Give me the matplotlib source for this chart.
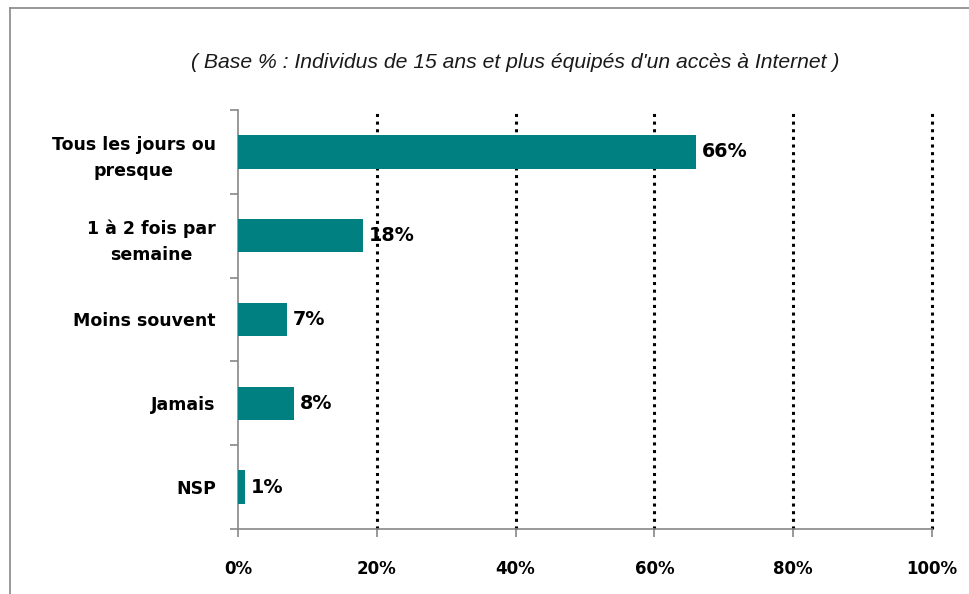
import matplotlib
matplotlib.use("Agg")
import matplotlib.pyplot as plt
from matplotlib.lines import Line2D

categories = ["Tous les jours ou\npresque", "1 à 2 fois par\nsemaine", "Moins souvent", "Jamais", "NSP"]
values = [66, 18, 7, 8, 1]
xticks = [0, 20, 40, 60, 80, 100]
xticklabels = ["0%", "20%", "40%", "60%", "80%", "100%"]
title = "( Base % : Individus de 15 ans et plus équipés d'un accès à Internet )"

fig = plt.figure(figsize=(9.7, 5.94), dpi=100)
ax = fig.add_axes([238/970, 1-529/594, (932-238)/970, (529-110)/594])

ypos = list(range(len(categories)))
ax.barh(ypos, values, height=0.4, color="#008080", zorder=3)
ax.set_ylim(len(categories)-0.5, -0.5)
ax.set_xlim(0, 100)

for y, v in zip(ypos, values):
    ax.text(v + 0.9, y, f"{v}%", va="center", ha="left", fontsize=13.8,
            fontweight="bold", family="DejaVu Sans", color="black", zorder=4)

for x in xticks[1:]:
    ax.axvline(x, color="black", linestyle=(0, (1, 1.5)), linewidth=2.2, zorder=2,
               clip_on=False)

ax.set_xticks(xticks)
ax.set_xticklabels(xticklabels, fontsize=12, fontweight="bold", family="DejaVu Sans")
ax.set_yticks(ypos)
ax.set_yticklabels(categories, fontsize=12.5, fontweight="bold", family="DejaVu Sans",
                   multialignment="center", linespacing=1.6)
ax.set_yticks([i - 0.5 for i in range(len(categories) + 1)], minor=True)
ax.tick_params(axis="y", which="major", length=0, pad=16)
ax.tick_params(axis="y", which="minor", length=6, width=1.2, color="#888888", direction="out")
ax.tick_params(axis="x", which="major", length=6, width=1.2, color="#888888", direction="out", pad=16)

for s in ["top", "right"]:
    ax.spines[s].set_visible(False)
for s in ["left", "bottom"]:
    ax.spines[s].set_color("#888888")
    ax.spines[s].set_linewidth(1.2)

fig.text(515/970, 1-62/594, title, ha="center", va="center", fontsize=15.2,
         style="italic", family="Liberation Sans", color="#1a1a1a")

# outer frame
fig.add_artist(Line2D([10/970, 10/970], [0, 1-8/594], color="#888888", linewidth=1.2,
                      transform=fig.transFigure))
fig.add_artist(Line2D([10/970, 1], [1-8/594, 1-8/594], color="#888888", linewidth=1.2,
                      transform=fig.transFigure))

fig.savefig("out.png", dpi=100)
